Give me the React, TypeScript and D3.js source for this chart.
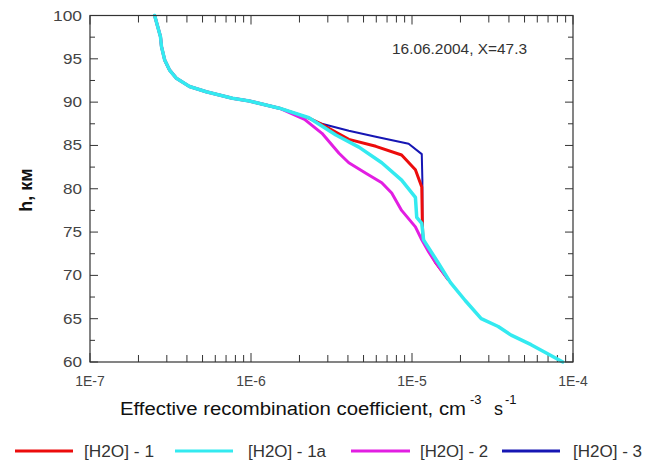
import React from "react";
import * as d3 from "d3";

const W = 650;
const H = 462;

// Shared upper profile (all four series coincide above ~89 km)
const topH = [100, 97.55, 96.4, 94.86, 93.7, 92.75, 91.8, 91.2, 90.44, 90.13, 89.3];
const topV = [2.52e-7, 2.74e-7, 2.78e-7, 2.91e-7, 3.12e-7, 3.44e-7, 4.15e-7, 5.27e-7, 7.66e-7, 9.76e-7, 1.5e-6];

// Lower parts of each series
const cyanH = [88.2, 86.2, 84.8, 83.0, 81.0, 79.0, 76.7, 76.0, 74.1, 71.4, 69.2, 67.1, 65.0, 64.1, 63.1, 62.0, 60];
const cyanV = [2.29e-6, 3.37e-6, 4.68e-6, 6.49e-6, 8.62e-6, 1.05e-5, 1.07e-5, 1.15e-5, 1.18e-5, 1.46e-5, 1.73e-5, 2.14e-5, 2.69e-5, 3.43e-5, 4.13e-5, 5.49e-5, 8.65e-5];

const redH = [88.15, 87.6, 85.7, 84.9, 83.9, 82.2, 80.2, 76.0, 74.1, 71.5, 69.5];
const redV = [2.29e-6, 2.64e-6, 4.05e-6, 5.96e-6, 8.62e-6, 1.05e-5, 1.15e-5, 1.16e-5, 1.17e-5, 1.4e-5, 1.68e-5];

const magH = [88.0, 86.4, 84.1, 83.0, 81.8, 80.7, 79.5, 77.5, 75.6, 74.1, 72.7, 71.5, 69.5];
const magV = [2.15e-6, 2.76e-6, 3.52e-6, 4.05e-6, 5.17e-6, 6.49e-6, 7.48e-6, 8.62e-6, 1.05e-5, 1.15e-5, 1.27e-5, 1.4e-5, 1.68e-5];

const blueH = [88.15, 87.6, 86.7, 86.0, 85.2, 84.0, 81.0, 76.0, 74.1, 71.5, 69.5];
const blueV = [2.29e-6, 2.64e-6, 4.05e-6, 5.96e-6, 9.53e-6, 1.15e-5, 1.16e-5, 1.16e-5, 1.17e-5, 1.4e-5, 1.68e-5];

const xTickValues = [1e-7, 1e-6, 1e-5, 1e-4];
const xTickLabels = ["1E-7", "1E-6", "1E-5", "1E-4"];
const yTickValues = [60, 65, 70, 75, 80, 85, 90, 95, 100];

const seriesNames = ["[H2O] - 1", "[H2O] - 1a", "[H2O] - 2", "[H2O] - 3"];
const seriesColors = ["#ec0c0c", "#33eaf0", "#e21ee2", "#1616b4"];

const margin = { left: 90, right: 573, top: 15.5, bottom: 362 };

export default function App() {
  const x = d3.scaleLog().domain([1e-7, 1e-4]).range([margin.left, margin.right]);
  const y = d3.scaleLinear().domain([60, 100]).range([margin.bottom, margin.top]);

  const line = d3
    .line<[number, number]>()
    .x((d) => x(d[0]))
    .y((d) => y(d[1]))
    .curve(d3.curveLinear);

  const mk = (vs: number[], hs: number[]) =>
    topV.map((v, i) => [v, topH[i]] as [number, number]).concat(vs.map((v, i) => [v, hs[i]] as [number, number]));

  const series = [
    { data: mk(redV, redH), color: seriesColors[0], w: 3 },
    { data: mk(cyanV, cyanH), color: seriesColors[1], w: 3.5 },
    { data: mk(magV, magH), color: seriesColors[2], w: 3 },
    { data: mk(blueV, blueH), color: seriesColors[3], w: 2 },
  ];
  const drawOrder = [3, 0, 2, 1];

  const minorX: number[] = [];
  for (let e = -7; e < -4; e++) {
    for (let k = 2; k <= 9; k++) minorX.push(k * Math.pow(10, e));
  }
  const minorY: number[] = [];
  for (let v = 62.5; v < 100; v += 5) minorY.push(v);

  const axisColor = "#333";
  const font = "'Liberation Sans', Arial, sans-serif";
  const legendLine = [
    [15, 73],
    [175, 233],
    [351, 410],
    [502, 560],
  ];
  const legendText = [
    [84, 70],
    [248, 78],
    [420, 68],
    [573, 69],
  ];

  return (
    <svg width={W} height={H} style={{ position: "absolute", left: 0, top: 0, background: "#fff" }} fontFamily={font}>
      <rect x={0} y={0} width={W} height={H} fill="#fff" />
      {/* ticks */}
      {xTickValues.map((v, i) => (
        <g key={"xt" + i}>
          <line x1={x(v)} x2={x(v)} y1={margin.bottom} y2={margin.bottom - 9} stroke={axisColor} />
          <line x1={x(v)} x2={x(v)} y1={margin.top} y2={margin.top + 9} stroke={axisColor} />
          <text x={x(v)} y={386} fontSize={14} fill="#444" textAnchor="middle">
            {xTickLabels[i]}
          </text>
        </g>
      ))}
      {minorX.map((v, i) => (
        <g key={"xm" + i}>
          <line x1={x(v)} x2={x(v)} y1={margin.bottom} y2={margin.bottom - 7} stroke={axisColor} />
          <line x1={x(v)} x2={x(v)} y1={margin.top} y2={margin.top + 7} stroke={axisColor} />
        </g>
      ))}
      {yTickValues.map((v) => {
        const s = String(v);
        const len = s.length === 3 ? 29 : 19;
        return (
          <g key={"yt" + v}>
            <line x1={margin.left} x2={margin.left + 8} y1={y(v)} y2={y(v)} stroke={axisColor} />
            <line x1={margin.right} x2={margin.right - 8} y1={y(v)} y2={y(v)} stroke={axisColor} />
            <text
              x={82 - len}
              y={y(v) + 5}
              fontSize={14}
              fill="#444"
              textLength={len}
              lengthAdjust="spacingAndGlyphs"
            >
              {s}
            </text>
          </g>
        );
      })}
      {minorY.map((v) => (
        <g key={"ym" + v}>
          <line x1={margin.left} x2={margin.left + 5} y1={y(v)} y2={y(v)} stroke={axisColor} />
          <line x1={margin.right} x2={margin.right - 5} y1={y(v)} y2={y(v)} stroke={axisColor} />
        </g>
      ))}
      {/* series */}
      {drawOrder.map((idx) => (
        <path
          key={"s" + idx}
          d={line(series[idx].data) || ""}
          fill="none"
          stroke={series[idx].color}
          strokeWidth={series[idx].w}
          strokeLinejoin="round"
          strokeLinecap="round"
        />
      ))}
      {/* frame */}
      <rect
        x={margin.left}
        y={margin.top}
        width={margin.right - margin.left}
        height={margin.bottom - margin.top}
        fill="none"
        stroke={axisColor}
        strokeWidth={1.2}
      />
      {/* annotation */}
      <text x={392} y={54} fontSize={14} fill="#333" textLength={135} lengthAdjust="spacingAndGlyphs">
        16.06.2004, X=47.3
      </text>
      {/* axis titles */}
      <text x={120} y={415} fontSize={18} fill="#111" textLength={346} lengthAdjust="spacingAndGlyphs">
        Effective recombination coefficient, cm
      </text>
      <text x={470} y={404} fontSize={13} fill="#111">
        -3
      </text>
      <text x={494} y={415} fontSize={18} fill="#111">
        s
      </text>
      <text x={505} y={404} fontSize={13} fill="#111">
        -1
      </text>
      <text
        transform="translate(32,190) rotate(-90)"
        fontSize={18}
        fontWeight="bold"
        fill="#111"
        textAnchor="middle"
      >
        h, км
      </text>
      {/* legend */}
      {seriesNames.map((n, i) => (
        <g key={"lg" + i}>
          <line
            x1={legendLine[i][0]}
            x2={legendLine[i][1]}
            y1={451}
            y2={451}
            stroke={seriesColors[i]}
            strokeWidth={3}
          />
          <text
            x={legendText[i][0]}
            y={457}
            fontSize={16}
            fill="#333"
            textLength={legendText[i][1]}
            lengthAdjust="spacingAndGlyphs"
          >
            {n}
          </text>
        </g>
      ))}
    </svg>
  );
}
